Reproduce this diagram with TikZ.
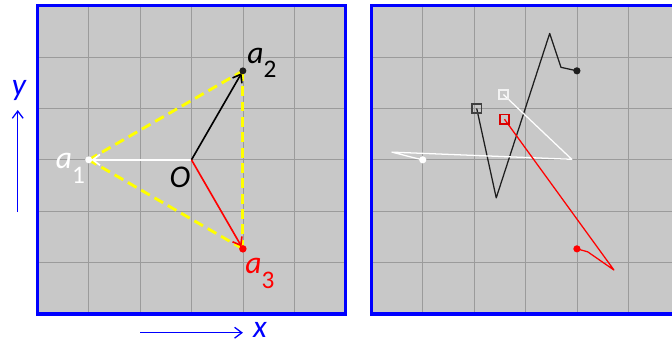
\documentclass[tikz,border=0pt]{standalone}
\usepackage{fontspec}
\setmainfont{Carlito}
\usetikzlibrary{arrows.meta}
\definecolor{bg}{RGB}{200,200,200}
\definecolor{gridc}{RGB}{155,155,155}
\definecolor{pblue}{RGB}{0,0,255}
\definecolor{pyellow}{RGB}{255,255,0}
\definecolor{dark}{RGB}{30,30,30}
\definecolor{pred}{RGB}{255,0,0}
\begin{document}
\begin{tikzpicture}[
  panel/.style={draw=pblue, line width=1.8pt},
  gridline/.style={gridc, line width=0.4pt},
  vec/.style={line width=0.9pt, shorten >=1.5pt, -{Straight Barb[length=4pt,width=6pt]}},
  tri/.style={pyellow, line width=1.6pt, dash pattern=on 5.5pt off 3pt},
  lbl/.style={font=\fontsize{17.5}{17.5}\selectfont\itshape, anchor=base, inner sep=0pt},
  sub/.style={font=\fontsize{14}{14}\selectfont, anchor=base, inner sep=0pt},
  trace/.style={line width=0.7pt, line join=round},
  startsq/.style={line width=0.9pt, minimum size=0.18cm, inner sep=0pt, draw, shape=rectangle},
  axisarrow/.style={pblue, line width=0.7pt, -{Straight Barb[length=4pt,width=6pt]}},
  dot/.style={circle, inner sep=0pt, minimum size=0.135cm},
]
\clip (-0.726,-0.545) rectangle (12.35,6.11);

% ---------- left panel ----------
\fill[bg] (0,0) rectangle (6,6);
\draw[gridline] (0,0) grid (6,6);
\draw[panel] (0,0) rectangle (6,6);

\coordinate (O) at (3,3);
\coordinate (A1) at (1,3);
\coordinate (A2) at (4,4.732);
\coordinate (A3) at (4,1.268);

\draw[tri] (A1) -- (A2);
\draw[tri] (A2) -- (A3);
\draw[tri] (A3) -- (A1);

\draw[vec, white] (O) -- (A1);
\draw[vec, black] (O) -- (A2);
\draw[vec, pred] (O) -- (A3);

\node[dot, fill=white] (d1) at (A1) {};
\node[dot, fill=dark] (d2) at (A2) {};
\node[dot, fill=pred, minimum size=0.145cm] (d3) at (A3) {};

\node[lbl, black] (la2) at (4.246,4.883) {a};
\node[sub, black] (ls2) at (4.528,4.611) {2};
\node[lbl, white] (la1) at (0.519,2.840) {a};
\node[sub, white] (ls1) at (0.800,2.549) {1};
\node[lbl, pred] (la3) at (4.207,0.797) {a};
\node[sub, pred] (ls3) at (4.489,0.506) {3};
\node[lbl, black] (lO) at (2.776,2.471) {O};

\coordinate (yb) at (-0.381,1.984);
\coordinate (yt) at (-0.381,3.969);
\draw[axisarrow] (yb) -- (yt);
\node[lbl, pblue] (ly) at (-0.356,4.249) {y};
\coordinate (xl) at (2.0,-0.364);
\coordinate (xr) at (4.0,-0.364);
\draw[axisarrow] (xl) -- (xr);
\node[lbl, pblue] (lx) at (4.333,-0.455) {x};

% ---------- right panel ----------
\begin{scope}[shift={(6.5,0)}]
\fill[bg] (0,0) rectangle (6,6);
\draw[gridline] (0,0) grid (6,6);
\draw[panel] (0,0) rectangle (6,6);

\coordinate (b0) at (2.05,4.0);
\coordinate (b1) at (2.43,2.26);
\coordinate (b2) at (3.47,5.46);
\coordinate (b3) at (3.69,4.80);
\coordinate (b4) at (4,4.732);

\coordinate (w0) at (2.57,4.27);
\coordinate (w1) at (3.90,3.01);
\coordinate (w2) at (0.40,3.15);
\coordinate (w3) at (0.83,3.04);
\coordinate (w4) at (1,3);

\coordinate (r0) at (2.59,3.79);
\coordinate (r1) at (4.72,0.856);
\coordinate (r2) at (4.21,1.21);
\coordinate (r3) at (4,1.268);

\draw[trace, dark] (b0) -- (b1) -- (b2) -- (b3) -- (b4);
\draw[trace, white] (w0) -- (w1) -- (w2) -- (w3) -- (w4);
\draw[trace, pred] (r0) -- (r1) -- (r2) -- (r3);

\node[startsq, draw=dark!85] (sb) at (b0) {};
\node[startsq, draw=white!90!gray] (sw) at (w0) {};
\node[startsq, draw=pred!85!black] (sr) at (r0) {};

\node[dot, fill=dark, minimum size=0.14cm] (eb) at (b4) {};
\node[dot, fill=white, minimum size=0.14cm] (ew) at (w4) {};
\node[dot, fill=pred, minimum size=0.14cm] (er) at (r3) {};
\end{scope}
\end{tikzpicture}
\end{document}
